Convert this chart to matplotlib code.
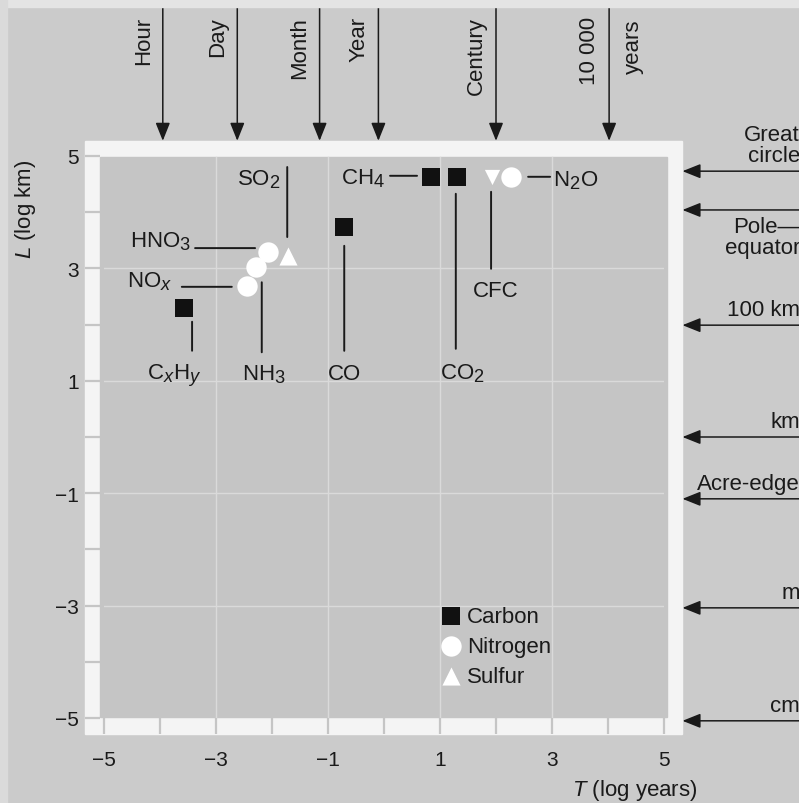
import matplotlib
matplotlib.use('Agg')
import matplotlib.pyplot as plt
from matplotlib.transforms import offset_copy, blended_transform_factory
from matplotlib.patches import Rectangle
try:
    import matplotlib._mathtext as _mt
    _mt.SHRINK_FACTOR = 0.82
except Exception:
    pass

plt.rcParams['font.family'] = ['Liberation Sans', 'DejaVu Sans']
plt.rcParams['mathtext.fontset'] = 'custom'
plt.rcParams['mathtext.rm'] = 'Liberation Sans'
plt.rcParams['mathtext.it'] = 'Liberation Sans:italic'
plt.rcParams['mathtext.bf'] = 'Liberation Sans:bold'

# ---------------- data (log10 years, log10 km) ----------------
carbon_names = ['C$_x$H$_y$', 'CO', 'CH$_4$', 'CO$_2$']
carbon_T = [-3.57, -0.71, 0.84, 1.30]
carbon_L = [2.30, 3.74, 4.63, 4.63]

nitrogen_names = ['NO$_x$', 'NH$_3$', 'HNO$_3$', 'N$_2$O']
nitrogen_T = [-2.45, -2.29, -2.07, 2.27]
nitrogen_L = [2.69, 3.02, 3.29, 4.63]

sulfur_names = ['SO$_2$']
sulfur_T = [-1.71]
sulfur_L = [3.22]

cfc_names = ['CFC']
cfc_T = [1.93]
cfc_L = [4.63]

time_labels = ['Hour', 'Day', 'Month', 'Year', 'Century', '10 000']
time_T = [-3.95, -2.62, -1.15, -0.10, 2.00, 4.02]

length_labels = ['Great\ncircle', 'Pole\u2014\nequator', '100 km', 'km', 'Acre-edge', 'm', 'cm']
length_L = [4.73, 4.04, 1.99, 0.0, -1.10, -3.04, -5.05]

tick_vals = [-5, -3, -1, 1, 3, 5]
tick_text = ['\u22125', '\u22123', '\u22121', '1', '3', '5']

# ---------------- style ----------------
OUTER = '#cbcbcb'
INNER = '#c5c5c5'
FRAME = '#f4f4f4'
GRID = '#dadada'
INK = '#1a1a1a'
FS = 16

W, H = 799, 804
fig = plt.figure(figsize=(W / 100, H / 100), dpi=100, facecolor=OUTER)
fig.patches.append(Rectangle((0, 1 - 8 / H), 1, 8 / H, transform=fig.transFigure,
                             color='#e4e4e4', zorder=0))
fig.patches.append(Rectangle((0, 0), 7 / W, 1, transform=fig.transFigure,
                             color='#dadada', zorder=0))
ax = fig.add_axes([104 / W, 1 - 719 / H, 560 / W, 562 / H])
ax.set_xlim(-5, 5)
ax.set_ylim(-5, 5)
ax.set_facecolor('none')
for s in ax.spines.values():
    s.set_visible(False)

# white frame and inner field
ax.add_patch(Rectangle((-5.34, -5.29), 10.66, 10.56, color=FRAME, clip_on=False, zorder=0))
ax.add_patch(Rectangle((-5.07, -4.98), 10.12, 9.96, color=INNER, clip_on=False, zorder=0.1))
for v in range(-5, 6):
    ax.plot([v, v], [-5.29, -4.98], color=INNER, lw=1.6, clip_on=False, zorder=0.2,
            solid_capstyle='butt')
    ax.plot([-5.34, -5.07], [v, v], color=INNER, lw=1.6, clip_on=False, zorder=0.2,
            solid_capstyle='butt')
for v in tick_vals[1:-1]:
    ax.plot([v, v], [-4.98, 4.98], color=GRID, lw=1.0, zorder=0.3)
    ax.plot([-5.07, 5.05], [v, v], color=GRID, lw=1.0, zorder=0.3)

ax.set_xticks(tick_vals)
ax.set_xticklabels(tick_text)
ax.set_yticks(tick_vals)
ax.set_yticklabels(tick_text)
ax.tick_params(length=0, labelsize=15, colors=INK)
ax.tick_params(axis='x', pad=23)
ax.tick_params(axis='y', pad=18)

# markers
sc_c = ax.scatter(carbon_T, carbon_L, marker='s', s=150, c='#111111', linewidths=0,
                  zorder=3, label='Carbon')
sc_n = ax.scatter(nitrogen_T, nitrogen_L, marker='o', s=215, c='white', linewidths=0,
                  zorder=3, label='Nitrogen')
sc_s = ax.scatter(sulfur_T, sulfur_L, marker='^', s=170, c='white', linewidths=0,
                  zorder=3, label='Sulfur')
ax.scatter(cfc_T, cfc_L, marker='v', s=120, c='white', linewidths=0, zorder=2.9)

# label layout: (text dx, text dy, ha, line dx0, dy0, dx1, dy1)  in pixels
layout = {
    'C$_x$H$_y$': (-37, -71, 'left', 8, -14, 8, -43),
    'CO': (0, -152, 'center', 0, -19, 0, -124),
    'CH$_4$': (-46, -7, 'right', -41, 1, -14, 1),
    'CO$_2$': (-17, -202, 'left', -1, -17, -1, -172),
    'NO$_x$': (-75, -1, 'right', -65, -1, -15, -1),
    'NH$_3$': (-14, -112, 'left', 6, -15, 6, -85),
    'HNO$_3$': (-77, 6, 'right', -73, 4, -13, 4),
    'N$_2$O': (42, -9, 'left', 17, 0, 39, 0),
    'SO$_2$': (-8, 72, 'right', -1, 89, -1, 19),
    'CFC': (4, -119, 'center', -1, -15, -1, -92),
}


def label_points(names, xs, ys):
    for n, x, y in zip(names, xs, ys):
        tdx, tdy, ha, x0, y0, x1, y1 = layout[n]
        ax.annotate(n, xy=(x, y), xytext=(tdx, tdy), textcoords='offset pixels',
                    ha=ha, va='baseline', fontsize=FS, color=INK, zorder=4)
        ax.annotate('', xy=(x, y), xycoords=offset_copy(ax.transData, fig=fig, x=x1, y=y1, units='dots'),
                    xytext=(x, y), textcoords=offset_copy(ax.transData, fig=fig, x=x0, y=y0, units='dots'),
                    arrowprops=dict(arrowstyle='-', color=INK, lw=1.4, shrinkA=0, shrinkB=0),
                    annotation_clip=False, zorder=4)


label_points(carbon_names, carbon_T, carbon_L)
label_points(nitrogen_names, nitrogen_T, nitrogen_L)
label_points(sulfur_names, sulfur_T, sulfur_L)
label_points(cfc_names, cfc_T, cfc_L)

ax.legend(handles=[sc_c, sc_n, sc_s], loc='upper left', bbox_to_anchor=(0.603, 0.200),
          frameon=False, fontsize=FS, handlelength=0.8, handletextpad=0.35,
          labelspacing=0.42, borderpad=0, borderaxespad=0, scatterpoints=1,
          labelcolor=INK)

# time-scale arrows along top
arrow_style = dict(arrowstyle='-|>,head_length=0.55,head_width=0.22', mutation_scale=20,
                   color=INK, lw=1.1, shrinkA=0, shrinkB=0)
trans_top = blended_transform_factory(ax.transData, fig.transFigure)
for t, lab in zip(time_T, time_labels):
    ax.annotate('', xy=(t, 5.27), xycoords='data', xytext=(t, 1 - 8 / H), textcoords=trans_top,
                arrowprops=arrow_style, annotation_clip=False)
    ax.text(t, 1 - 17 / H, lab, transform=offset_copy(trans_top, fig=fig, x=-9, y=0, units='dots'),
            rotation=90, ha='right', va='top', fontsize=FS, color=INK)
ax.text(time_T[-1], 1 - 20 / H, 'years',
        transform=offset_copy(trans_top, fig=fig, x=14, y=0, units='dots'),
        rotation=90, ha='left', va='top', fontsize=FS, color=INK)

# length-scale arrows along right
trans_right = blended_transform_factory(fig.transFigure, ax.transData)
for l, lab in zip(length_L, length_labels):
    ax.annotate('', xy=(5.33, l), xycoords='data', xytext=(1.0, l), textcoords=trans_right,
                arrowprops=arrow_style, annotation_clip=False)
    if lab.startswith('Pole'):
        ax.text(800 / W, l, lab, transform=offset_copy(trans_right, fig=fig, x=0, y=-6, units='dots'),
                ha='right', va='top', multialignment='right', fontsize=FS, color=INK,
                linespacing=1.0)
    else:
        ax.text(800 / W, l, lab, transform=offset_copy(trans_right, fig=fig, x=0, y=10, units='dots'),
                ha='right', va='baseline', multialignment='right', fontsize=FS, color=INK,
                linespacing=1.0)

fig.text(697 / W, 1 - 791 / H, '$T$ (log years)', ha='right', va='center', fontsize=FS, color=INK)
fig.text(26 / W, 1 - 209 / H, '$L$ (log km)', rotation=90, ha='center', va='center',
         fontsize=FS, color=INK)

fig.savefig('out.png', dpi=100, facecolor=OUTER)
